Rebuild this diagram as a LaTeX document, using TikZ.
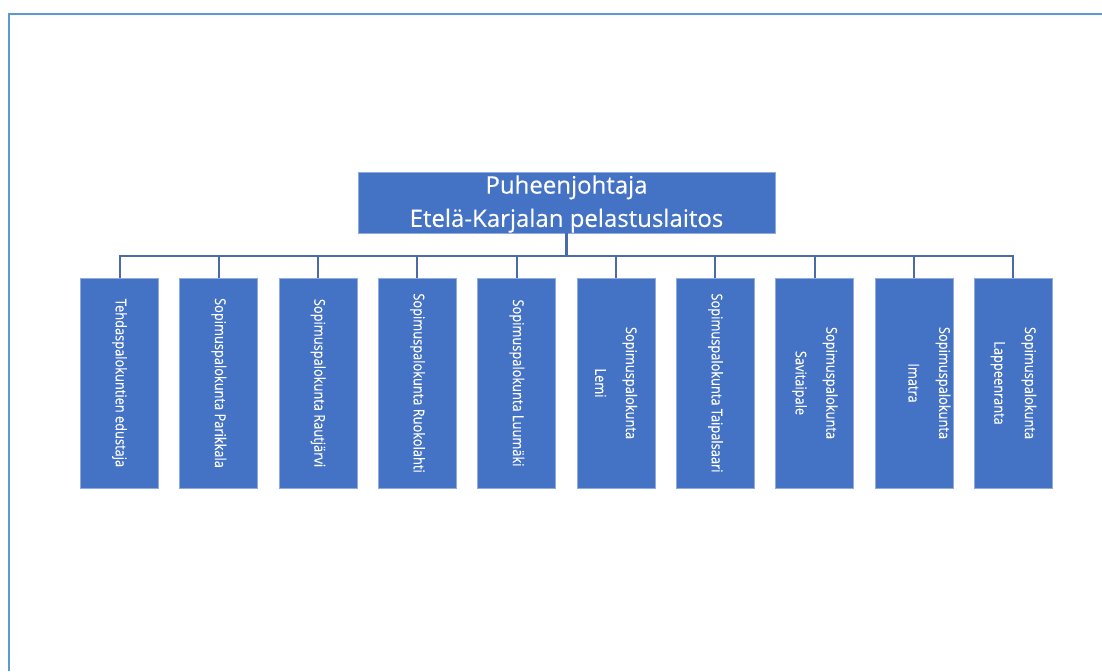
\documentclass[tikz,border=0pt]{standalone}
\usepackage{fontspec}
\setmainfont{Open Sans}
\newfontfamily\topfont[FakeBold=0.4]{Open Sans}
\newfontfamily\condfont[FakeStretch=0.86,FakeBold=0.2]{Open Sans}
\definecolor{boxfill}{HTML}{4472C4}
\definecolor{boxline}{HTML}{8FAADC}
\definecolor{connc}{HTML}{4A6BA8}
\definecolor{framec}{HTML}{5B9BD5}
\begin{document}
\begin{tikzpicture}[x=0.75pt,y=-0.75pt,
  topbox/.style={draw=boxline,line width=0.6pt,fill=boxfill,text=white,inner sep=0pt,
    minimum width=312.75pt,minimum height=45.75pt,align=center,font=\topfont\fontsize{18}{25}\selectfont},
  childbox/.style={draw=boxline,line width=0.6pt,fill=boxfill,inner sep=0pt,
    minimum width=58.5pt,minimum height=157.5pt},
  childtext/.style={rotate=-90,text=white,inner sep=0pt,align=center,font=\condfont\fontsize{11.2}{23}\selectfont},
  conn/.style={draw=connc,line width=1.5pt},
  frameline/.style={draw=framec,line width=1.6pt}]
\useasboundingbox (0,0) rectangle (1102,671);
\draw[frameline] (9,671) -- (9,14) -- (1102,14);
\node[topbox] (top) at (566.5,202.5) {};
\node[text=white,inner sep=0pt,align=center,font=\topfont\fontsize{18}{25}\selectfont] (toptext) at (566.5,204) {Puheenjohtaja\\Etelä-Karjalan pelastuslaitos};
\foreach \i/\t in {1/{Tehdaspalokuntien edustaja},2/{Sopimuspalokunta Parikkala},3/{Sopimuspalokunta Rautjärvi},4/{Sopimuspalokunta Ruokolahti},5/{Sopimuspalokunta Luumäki},6/{Sopimuspalokunta\\Lemi},7/{Sopimuspalokunta Taipalsaari},8/{Sopimuspalokunta\\Savitaipale},9/{Sopimuspalokunta\\Imatra\\\mbox{}},10/{Sopimuspalokunta\\Lappeenranta}}{
  \node[childbox] (c\i) at ({119.5+99.33*(\i-1)},383) {};
  \node[childtext] (t\i) at (c\i) {\t};
}
\draw[conn,line width=2.4pt] (top.south) -- ++(0,23.5) coordinate (hub);
\draw[conn] (c1.north) -- ++(0,-22) -| (c10.north);
\foreach \i in {2,...,9}{\draw[conn] (c\i.north) -- ++(0,-22);}
\end{tikzpicture}
\end{document}
